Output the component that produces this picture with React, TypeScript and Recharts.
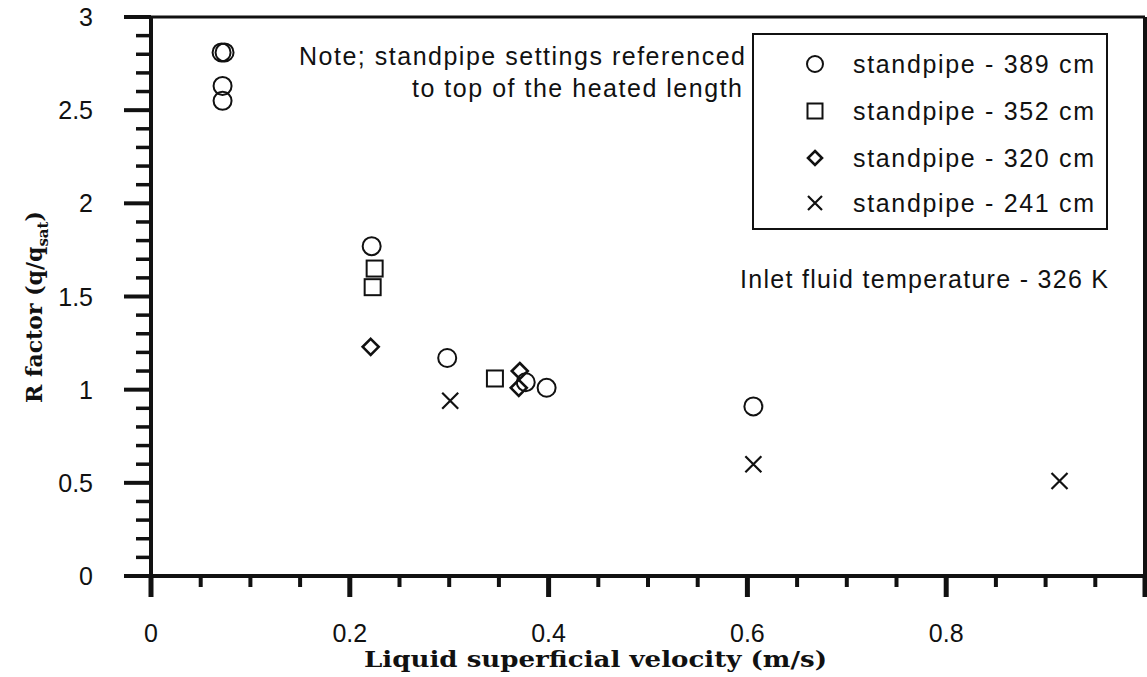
import React from 'react';
import { ScatterChart, Scatter, XAxis, YAxis, ReferenceLine, Legend, Customized } from 'recharts';

// ---- data ----
const standpipe389 = [
  { x: 0.071, y: 2.81 },
  { x: 0.074, y: 2.81 },
  { x: 0.072, y: 2.63 },
  { x: 0.072, y: 2.55 },
  { x: 0.222, y: 1.77 },
  { x: 0.298, y: 1.17 },
  { x: 0.377, y: 1.04 },
  { x: 0.398, y: 1.01 },
  { x: 0.606, y: 0.91 },
];
const standpipe352 = [
  { x: 0.225, y: 1.65 },
  { x: 0.223, y: 1.55 },
  { x: 0.346, y: 1.06 },
];
const standpipe320 = [
  { x: 0.221, y: 1.23 },
  { x: 0.371, y: 1.1 },
  { x: 0.37, y: 1.01 },
];
const standpipe241 = [
  { x: 0.301, y: 0.94 },
  { x: 0.606, y: 0.6 },
  { x: 0.914, y: 0.51 },
];
const seriesNames = ['standpipe - 389 cm', 'standpipe - 352 cm', 'standpipe - 320 cm', 'standpipe - 241 cm'];

const xTicks = [0, 0.05, 0.1, 0.15, 0.2, 0.25, 0.3, 0.35, 0.4, 0.45, 0.5, 0.55, 0.6, 0.65, 0.7, 0.75, 0.8, 0.85, 0.9, 0.95, 1];
const xTickLabels = ['0', '0.2', '0.4', '0.6', '0.8'];
const yTicks = [0, 0.1, 0.2, 0.3, 0.4, 0.5, 0.6, 0.7, 0.8, 0.9, 1, 1.1, 1.2, 1.3, 1.4, 1.5, 1.6, 1.7, 1.8, 1.9, 2, 2.1, 2.2, 2.3, 2.4, 2.5, 2.6, 2.7, 2.8, 2.9, 3];
const yTickLabels = ['0', '0.5', '1', '1.5', '2', '2.5', '3'];

const xTitle = 'Liquid superficial velocity (m/s)';
const noteLine1 = 'Note; standpipe settings referenced';
const noteLine2 = 'to top of the heated length';
const inletNote = 'Inlet fluid temperature - 326 K';

const SANS = "'Liberation Sans', Arial, Helvetica, sans-serif";
const SERIF = "'DejaVu Serif', serif";
const INK = '#111';

// ---- marker shapes ----
const CircleMark = ({ cx, cy, r = 9 }: any) => (
  <circle cx={cx} cy={cy} r={r} fill="none" stroke={INK} strokeWidth={2} />
);
const SquareMark = ({ cx, cy, s = 16 }: any) => (
  <rect x={cx - s / 2} y={cy - s / 2} width={s} height={s} fill="none" stroke={INK} strokeWidth={2} />
);
const DiamondMark = ({ cx, cy, d = 8 }: any) => (
  <path d={`M${cx},${cy - d} L${cx + d},${cy} L${cx},${cy + d} L${cx - d},${cy} Z`} fill="none" stroke={INK} strokeWidth={2.6} />
);
const CrossMark = ({ cx, cy, d = 8 }: any) => (
  <path d={`M${cx - d},${cy - d} L${cx + d},${cy + d} M${cx + d},${cy - d} L${cx - d},${cy + d}`} fill="none" stroke={INK} strokeWidth={2.2} />
);
const markers = [CircleMark, SquareMark, DiamondMark, CrossMark];

// ---- ticks ----
const XTick = (p: any) => {
  const v = p.payload.value;
  const k = v / 0.2;
  const major = Math.abs(k - Math.round(k)) < 1e-6;
  const label = major ? xTickLabels[Math.round(k)] : undefined;
  return (
    <g>
      <line x1={p.x} x2={p.x} y1={p.y} y2={p.y + (major ? 21 : 11)} stroke={INK} strokeWidth={major ? 5 : 4} />
      {label !== undefined && (
        <text x={p.x} y={p.y + 66} textAnchor="middle" fontSize={25} fontFamily={SANS} fill={INK}>
          {label}
        </text>
      )}
    </g>
  );
};

const YTick = (p: any) => {
  const v = p.payload.value;
  const k = v / 0.5;
  const major = Math.abs(k - Math.round(k)) < 1e-6;
  const label = major ? yTickLabels[Math.round(k)] : undefined;
  return (
    <g>
      <line x1={p.x - (major ? 27 : 15)} x2={p.x} y1={p.y} y2={p.y} stroke={INK} strokeWidth={major ? 4 : 3.5} />
      {label !== undefined && (
        <text x={p.x - 58} y={p.y + 9} textAnchor="end" fontSize={25} fontFamily={SANS} fill={INK}>
          {label}
        </text>
      )}
    </g>
  );
};

// ---- legend ----
const LegendBox = (props: any) => {
  const payload = props.payload || [];
  const rows = [73, 120, 167, 212];
  return (
    <svg width={356} height={197} style={{ display: 'block', overflow: 'visible' }}>
      <rect x={1} y={1} width={354} height={195} fill="#fff" stroke={INK} strokeWidth={2} />
      {seriesNames.map((name, i) => {
        const Mark = markers[i];
        const base = rows[i] - 33;
        const entry = payload.find((e: any) => e.value === name);
        return (
          <g key={name}>
            <Mark cx={63} cy={base - 9} r={8} s={15} d={7} />
            <text x={101} y={base} fontSize={25} fontFamily={SANS} fill={INK} textLength={241} lengthAdjust="spacing">
              {entry ? entry.value : name}
            </text>
          </g>
        );
      })}
    </svg>
  );
};

const Annotations = () => (
  <g>
    <text x={299} y={65} fontSize={25} fontFamily={SANS} fill={INK} textLength={446} lengthAdjust="spacing">
      {noteLine1}
    </text>
    <text x={412} y={97} fontSize={25} fontFamily={SANS} fill={INK} textLength={330} lengthAdjust="spacing">
      {noteLine2}
    </text>
    <text x={740} y={288} fontSize={25} fontFamily={SANS} fill={INK} textLength={368} lengthAdjust="spacing">
      {inletNote}
    </text>
    <text x={364} y={667} fontSize={23} fontWeight="bold" fontFamily={SERIF} fill={INK} textLength={463} lengthAdjust="spacingAndGlyphs">
      {xTitle}
    </text>
    <g transform="translate(42,307) rotate(-90)">
      <text x={0} y={0} textAnchor="middle" fontSize={22} fontWeight="bold" fontFamily={SERIF} fill={INK}>
        R factor (q/q<tspan fontSize={15} dy={6}>sat</tspan>
        <tspan dy={-6}>)</tspan>
      </text>
    </g>
  </g>
);

export default function App() {
  return (
    <div style={{ position: 'absolute', left: 0, top: 0, width: 1147, height: 677, background: '#fff' }}>
      <ScatterChart width={1147} height={677} margin={{ top: 17, right: 2, bottom: 100, left: 150 }}>
        <XAxis
          type="number"
          dataKey="x"
          domain={[0, 1]}
          ticks={xTicks}
          interval={0}
          height={1}
          tickSize={0}
          tickMargin={0}
          tickLine={false}
          axisLine={{ stroke: INK, strokeWidth: 4 }}
          tick={XTick}
          allowDataOverflow
        />
        <YAxis
          type="number"
          dataKey="y"
          domain={[0, 3]}
          ticks={yTicks}
          interval={0}
          width={1}
          tickSize={0}
          tickMargin={0}
          tickLine={false}
          axisLine={{ stroke: INK, strokeWidth: 4 }}
          tick={YTick}
          allowDataOverflow
        />
        <ReferenceLine y={3} stroke={INK} strokeWidth={3} />
        <ReferenceLine x={1} stroke={INK} strokeWidth={4} />
        <Scatter name={seriesNames[0]} data={standpipe389} shape={CircleMark} isAnimationActive={false} />
        <Scatter name={seriesNames[1]} data={standpipe352} shape={SquareMark} isAnimationActive={false} />
        <Scatter name={seriesNames[2]} data={standpipe320} shape={DiamondMark} isAnimationActive={false} />
        <Scatter name={seriesNames[3]} data={standpipe241} shape={CrossMark} isAnimationActive={false} />
        <Legend
          layout="vertical"
          align="center"
          verticalAlign="middle"
          content={LegendBox}
          wrapperStyle={{ position: 'absolute', left: 752, top: 33, width: 356, height: 197 }}
        />
        <Customized component={Annotations} />
      </ScatterChart>
    </div>
  );
}
